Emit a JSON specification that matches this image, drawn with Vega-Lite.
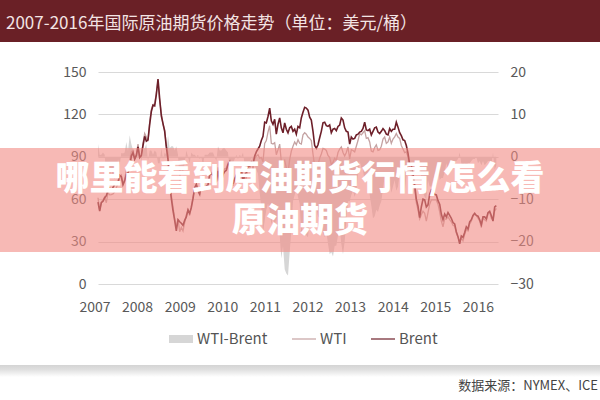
{
  "$schema": "https://vega.github.io/schema/vega-lite/v6.json",
  "width": 400,
  "height": 212,
  "autosize": {"type": "none"},
  "padding": {"left": 98, "top": 72, "right": 102, "bottom": 116},
  "background": "white",
  "config": {"font": "Noto Sans CJK SC", "view": {"stroke": null}},
  "data": {"values": [
    {"t":2007.000,"b":58.0,"w":61.0,"s":3.0},{"t":2007.042,"b":51.5,"w":51.9,"s":0.4},{"t":2007.083,"b":57.5,"w":58.0,"s":0.5},{"t":2007.125,"b":58.5,"w":59.5,"s":1.0},
    {"t":2007.167,"b":61.0,"w":61.5,"s":0.5},{"t":2007.208,"b":62.5,"w":57.5,"s":-5.0},{"t":2007.250,"b":66.0,"w":64.6,"s":-1.4},{"t":2007.292,"b":67.8,"w":63.1,"s":-4.7},
    {"t":2007.333,"b":66.2,"w":63.2,"s":-3.0},{"t":2007.375,"b":68.3,"w":63.7,"s":-4.6},{"t":2007.417,"b":70.4,"w":65.1,"s":-5.3},{"t":2007.458,"b":71.5,"w":68.0,"s":-3.5},
    {"t":2007.500,"b":72.0,"w":71.4,"s":-0.6},{"t":2007.542,"b":77.0,"w":75.0,"s":-2.0},{"t":2007.583,"b":76.0,"w":76.9,"s":0.9},{"t":2007.625,"b":70.2,"w":71.0,"s":0.8},
    {"t":2007.667,"b":73.0,"w":74.0,"s":1.0},{"t":2007.708,"b":77.5,"w":81.0,"s":3.5},{"t":2007.750,"b":78.7,"w":80.0,"s":1.3},{"t":2007.792,"b":82.5,"w":87.6,"s":5.1},
    {"t":2007.833,"b":90.5,"w":93.5,"s":3.0},{"t":2007.875,"b":93.0,"w":94.6,"s":1.6},{"t":2007.917,"b":88.3,"w":88.7,"s":0.4},{"t":2007.958,"b":91.0,"w":91.5,"s":0.5},
    {"t":2008.000,"b":97.0,"w":99.0,"s":2.0},{"t":2008.042,"b":89.5,"w":90.5,"s":1.0},{"t":2008.083,"b":91.0,"w":90.0,"s":-1.0},{"t":2008.125,"b":98.0,"w":99.5,"s":1.5},
    {"t":2008.167,"b":104.5,"w":106.5,"s":2.0},{"t":2008.208,"b":101.0,"w":104.0,"s":3.0},{"t":2008.250,"b":102.0,"w":101.0,"s":-1.0},{"t":2008.292,"b":113.0,"w":114.5,"s":1.5},
    {"t":2008.333,"b":122.0,"w":123.5,"s":1.5},{"t":2008.375,"b":126.5,"w":127.0,"s":0.5},{"t":2008.417,"b":126.0,"w":127.5,"s":1.5},{"t":2008.458,"b":134.0,"w":135.0,"s":1.0},
    {"t":2008.500,"b":145.0,"w":143.5,"s":-1.5},{"t":2008.542,"b":131.0,"w":129.5,"s":-1.5},{"t":2008.583,"b":119.0,"w":121.0,"s":2.0},{"t":2008.625,"b":113.5,"w":113.0,"s":-0.5},
    {"t":2008.667,"b":108.0,"w":109.0,"s":1.0},{"t":2008.708,"b":97.0,"w":97.5,"s":0.5},{"t":2008.750,"b":88.0,"w":93.0,"s":5.0},{"t":2008.792,"b":70.5,"w":72.5,"s":2.0},
    {"t":2008.833,"b":60.5,"w":63.0,"s":2.5},{"t":2008.875,"b":52.0,"w":54.5,"s":2.5},{"t":2008.917,"b":45.0,"w":46.5,"s":1.5},{"t":2008.958,"b":37.5,"w":40.0,"s":2.5},
    {"t":2009.000,"b":45.5,"w":46.0,"s":0.5},{"t":2009.042,"b":44.0,"w":37.0,"s":-7.0},{"t":2009.083,"b":43.0,"w":40.0,"s":-3.0},{"t":2009.125,"b":41.5,"w":37.5,"s":-4.0},
    {"t":2009.167,"b":45.0,"w":43.5,"s":-1.5},{"t":2009.208,"b":47.5,"w":49.0,"s":1.5},{"t":2009.250,"b":52.5,"w":52.5,"s":0.0},{"t":2009.292,"b":50.0,"w":48.5,"s":-1.5},
    {"t":2009.333,"b":54.0,"w":55.0,"s":1.0},{"t":2009.375,"b":60.5,"w":61.0,"s":0.5},{"t":2009.417,"b":68.0,"w":68.5,"s":0.5},{"t":2009.458,"b":70.5,"w":70.5,"s":0.0},
    {"t":2009.500,"b":66.0,"w":66.5,"s":0.5},{"t":2009.542,"b":63.5,"w":63.0,"s":-0.5},{"t":2009.583,"b":71.5,"w":71.5,"s":0.0},{"t":2009.625,"b":72.5,"w":70.5,"s":-2.0},
    {"t":2009.667,"b":67.5,"w":68.0,"s":0.5},{"t":2009.708,"b":69.0,"w":69.5,"s":0.5},{"t":2009.750,"b":70.0,"w":70.5,"s":0.5},{"t":2009.792,"b":77.0,"w":78.0,"s":1.0},
    {"t":2009.833,"b":78.0,"w":79.0,"s":1.0},{"t":2009.875,"b":77.0,"w":78.0,"s":1.0},{"t":2009.917,"b":76.5,"w":76.5,"s":0.0},{"t":2009.958,"b":72.5,"w":71.5,"s":-1.0},
    {"t":2010.000,"b":80.0,"w":82.5,"s":2.5},{"t":2010.042,"b":73.0,"w":74.5,"s":1.5},{"t":2010.083,"b":72.0,"w":73.5,"s":1.5},{"t":2010.125,"b":77.5,"w":79.5,"s":2.0},
    {"t":2010.167,"b":79.5,"w":81.5,"s":2.0},{"t":2010.208,"b":80.5,"w":82.0,"s":1.5},{"t":2010.250,"b":84.5,"w":85.5,"s":1.0},{"t":2010.292,"b":86.5,"w":83.5,"s":-3.0},
    {"t":2010.333,"b":80.0,"w":75.5,"s":-4.5},{"t":2010.375,"b":71.0,"w":69.5,"s":-1.5},{"t":2010.417,"b":74.5,"w":74.0,"s":-0.5},{"t":2010.458,"b":77.0,"w":77.5,"s":0.5},
    {"t":2010.500,"b":73.0,"w":72.5,"s":-0.5},{"t":2010.542,"b":76.5,"w":77.0,"s":0.5},{"t":2010.583,"b":81.5,"w":81.5,"s":0.0},{"t":2010.625,"b":72.5,"w":73.5,"s":1.0},
    {"t":2010.667,"b":77.0,"w":75.0,"s":-2.0},{"t":2010.708,"b":79.0,"w":75.0,"s":-4.0},{"t":2010.750,"b":83.0,"w":82.0,"s":-1.0},{"t":2010.792,"b":83.5,"w":81.5,"s":-2.0},
    {"t":2010.833,"b":86.5,"w":86.5,"s":0.0},{"t":2010.875,"b":85.0,"w":81.5,"s":-3.5},{"t":2010.917,"b":90.5,"w":88.5,"s":-2.0},{"t":2010.958,"b":93.5,"w":90.5,"s":-3.0},
    {"t":2011.000,"b":95.5,"w":91.5,"s":-4.0},{"t":2011.042,"b":97.5,"w":89.0,"s":-8.5},{"t":2011.083,"b":101.5,"w":89.5,"s":-12.0},{"t":2011.125,"b":104.5,"w":86.5,"s":-18.0},
    {"t":2011.167,"b":114.5,"w":99.5,"s":-15.0},{"t":2011.208,"b":114.0,"w":101.5,"s":-12.5},{"t":2011.250,"b":118.5,"w":107.5,"s":-11.0},{"t":2011.292,"b":124.5,"w":112.0,"s":-12.5},
    {"t":2011.333,"b":115.5,"w":99.5,"s":-16.0},{"t":2011.375,"b":113.0,"w":99.0,"s":-14.0},{"t":2011.417,"b":116.5,"w":100.0,"s":-16.5},{"t":2011.458,"b":106.0,"w":91.5,"s":-14.5},
    {"t":2011.500,"b":113.0,"w":95.0,"s":-18.0},{"t":2011.542,"b":117.5,"w":99.0,"s":-18.5},{"t":2011.583,"b":110.5,"w":86.5,"s":-24.0},{"t":2011.625,"b":107.0,"w":86.0,"s":-21.0},
    {"t":2011.667,"b":114.0,"w":87.5,"s":-26.5},{"t":2011.708,"b":109.5,"w":82.0,"s":-27.5},{"t":2011.750,"b":107.0,"w":79.0,"s":-28.0},{"t":2011.792,"b":110.5,"w":88.0,"s":-22.5},
    {"t":2011.833,"b":111.5,"w":94.0,"s":-17.5},{"t":2011.875,"b":108.0,"w":97.5,"s":-10.5},{"t":2011.917,"b":109.5,"w":100.5,"s":-9.0},{"t":2011.958,"b":106.0,"w":98.5,"s":-7.5},
    {"t":2012.000,"b":111.5,"w":102.0,"s":-9.5},{"t":2012.042,"b":110.5,"w":99.5,"s":-11.0},{"t":2012.083,"b":117.5,"w":99.0,"s":-18.5},{"t":2012.125,"b":121.5,"w":105.5,"s":-16.0},
    {"t":2012.167,"b":125.0,"w":107.0,"s":-18.0},{"t":2012.208,"b":124.5,"w":106.0,"s":-18.5},{"t":2012.250,"b":123.0,"w":104.0,"s":-19.0},{"t":2012.292,"b":118.0,"w":103.0,"s":-15.0},
    {"t":2012.333,"b":116.0,"w":101.5,"s":-14.5},{"t":2012.375,"b":108.0,"w":92.0,"s":-16.0},{"t":2012.417,"b":98.0,"w":83.0,"s":-15.0},{"t":2012.458,"b":96.0,"w":84.0,"s":-12.0},
    {"t":2012.500,"b":98.5,"w":84.5,"s":-14.0},{"t":2012.542,"b":103.5,"w":89.0,"s":-14.5},{"t":2012.583,"b":108.0,"w":92.0,"s":-16.0},{"t":2012.625,"b":114.0,"w":96.0,"s":-18.0},
    {"t":2012.667,"b":114.5,"w":95.5,"s":-19.0},{"t":2012.708,"b":112.0,"w":94.5,"s":-17.5},{"t":2012.750,"b":111.5,"w":91.0,"s":-20.5},{"t":2012.792,"b":112.5,"w":89.5,"s":-23.0},
    {"t":2012.833,"b":107.0,"w":84.5,"s":-22.5},{"t":2012.875,"b":109.5,"w":86.0,"s":-23.5},{"t":2012.917,"b":110.0,"w":89.0,"s":-21.0},{"t":2012.958,"b":108.5,"w":87.5,"s":-21.0},
    {"t":2013.000,"b":111.5,"w":93.0,"s":-18.5},{"t":2013.042,"b":112.5,"w":95.5,"s":-17.0},{"t":2013.083,"b":117.5,"w":97.0,"s":-20.5},{"t":2013.125,"b":116.0,"w":93.0,"s":-23.0},
    {"t":2013.167,"b":110.5,"w":90.5,"s":-20.0},{"t":2013.208,"b":108.0,"w":93.0,"s":-15.0},{"t":2013.250,"b":107.5,"w":97.0,"s":-10.5},{"t":2013.292,"b":99.0,"w":88.5,"s":-10.5},
    {"t":2013.333,"b":104.0,"w":95.0,"s":-9.0},{"t":2013.375,"b":102.5,"w":94.5,"s":-8.0},{"t":2013.417,"b":103.0,"w":93.5,"s":-9.5},{"t":2013.458,"b":105.5,"w":97.5,"s":-8.0},
    {"t":2013.500,"b":106.0,"w":101.5,"s":-4.5},{"t":2013.542,"b":107.5,"w":106.5,"s":-1.0},{"t":2013.583,"b":108.0,"w":105.5,"s":-2.5},{"t":2013.625,"b":110.0,"w":107.0,"s":-3.0},
    {"t":2013.667,"b":114.5,"w":108.5,"s":-6.0},{"t":2013.708,"b":109.0,"w":103.0,"s":-6.0},{"t":2013.750,"b":108.5,"w":103.5,"s":-5.0},{"t":2013.792,"b":109.5,"w":100.5,"s":-9.0},
    {"t":2013.833,"b":105.5,"w":94.0,"s":-11.5},{"t":2013.875,"b":108.0,"w":93.5,"s":-14.5},{"t":2013.917,"b":110.5,"w":96.5,"s":-14.0},{"t":2013.958,"b":111.0,"w":98.5,"s":-12.5},
    {"t":2014.000,"b":107.5,"w":94.5,"s":-13.0},{"t":2014.042,"b":106.5,"w":95.0,"s":-11.5},{"t":2014.083,"b":108.0,"w":97.5,"s":-10.5},{"t":2014.125,"b":110.0,"w":102.5,"s":-7.5},
    {"t":2014.167,"b":108.5,"w":104.0,"s":-4.5},{"t":2014.208,"b":106.0,"w":99.5,"s":-6.5},{"t":2014.250,"b":105.5,"w":100.5,"s":-5.0},{"t":2014.292,"b":110.0,"w":104.0,"s":-6.0},
    {"t":2014.333,"b":108.0,"w":99.5,"s":-8.5},{"t":2014.375,"b":109.5,"w":102.5,"s":-7.0},{"t":2014.417,"b":109.5,"w":104.0,"s":-5.5},{"t":2014.458,"b":114.5,"w":106.5,"s":-8.0},
    {"t":2014.500,"b":111.0,"w":104.0,"s":-7.0},{"t":2014.542,"b":107.0,"w":103.0,"s":-4.0},{"t":2014.583,"b":105.0,"w":98.0,"s":-7.0},{"t":2014.625,"b":102.0,"w":95.5,"s":-6.5},
    {"t":2014.667,"b":101.5,"w":93.0,"s":-8.5},{"t":2014.708,"b":98.0,"w":93.5,"s":-4.5},{"t":2014.750,"b":92.5,"w":90.0,"s":-2.5},{"t":2014.792,"b":84.5,"w":81.5,"s":-3.0},
    {"t":2014.833,"b":84.0,"w":79.0,"s":-5.0},{"t":2014.875,"b":78.0,"w":75.0,"s":-3.0},{"t":2014.917,"b":70.0,"w":67.0,"s":-3.0},{"t":2014.958,"b":60.0,"w":57.5,"s":-2.5},
    {"t":2015.000,"b":55.0,"w":52.5,"s":-2.5},{"t":2015.042,"b":47.0,"w":46.0,"s":-1.0},{"t":2015.083,"b":54.5,"w":49.0,"s":-5.5},{"t":2015.125,"b":60.0,"w":51.5,"s":-8.5},
    {"t":2015.167,"b":59.5,"w":50.0,"s":-9.5},{"t":2015.208,"b":54.5,"w":44.5,"s":-10.0},{"t":2015.250,"b":56.0,"w":50.5,"s":-5.5},{"t":2015.292,"b":63.5,"w":56.5,"s":-7.0},
    {"t":2015.333,"b":66.5,"w":59.5,"s":-7.0},{"t":2015.375,"b":65.0,"w":59.5,"s":-5.5},{"t":2015.417,"b":63.5,"w":59.5,"s":-4.0},{"t":2015.458,"b":63.0,"w":59.5,"s":-3.5},
    {"t":2015.500,"b":59.0,"w":56.5,"s":-2.5},{"t":2015.542,"b":56.5,"w":51.0,"s":-5.5},{"t":2015.583,"b":49.5,"w":44.5,"s":-5.0},{"t":2015.625,"b":45.5,"w":40.5,"s":-5.0},
    {"t":2015.667,"b":49.5,"w":46.0,"s":-3.5},{"t":2015.708,"b":47.5,"w":46.0,"s":-1.5},{"t":2015.750,"b":50.5,"w":47.5,"s":-3.0},{"t":2015.792,"b":48.5,"w":45.5,"s":-3.0},
    {"t":2015.833,"b":46.5,"w":44.0,"s":-2.5},{"t":2015.875,"b":43.5,"w":41.5,"s":-2.0},{"t":2015.917,"b":42.5,"w":41.0,"s":-1.5},{"t":2015.958,"b":37.0,"w":36.0,"s":-1.0},
    {"t":2016.000,"b":33.5,"w":33.0,"s":-0.5},{"t":2016.042,"b":28.5,"w":29.5,"s":1.0},{"t":2016.083,"b":34.0,"w":32.5,"s":-1.5},{"t":2016.125,"b":33.0,"w":30.5,"s":-2.5},
    {"t":2016.167,"b":36.5,"w":35.0,"s":-1.5},{"t":2016.208,"b":40.5,"w":38.5,"s":-2.0},{"t":2016.250,"b":39.0,"w":37.5,"s":-1.5},{"t":2016.292,"b":44.0,"w":42.5,"s":-1.5},
    {"t":2016.333,"b":45.5,"w":44.5,"s":-1.0},{"t":2016.375,"b":48.5,"w":48.0,"s":-0.5},{"t":2016.417,"b":50.0,"w":49.5,"s":-0.5},{"t":2016.458,"b":48.5,"w":48.5,"s":0.0},
    {"t":2016.500,"b":48.0,"w":46.5,"s":-1.5},{"t":2016.542,"b":45.5,"w":44.5,"s":-1.0},{"t":2016.583,"b":42.0,"w":40.0,"s":-2.0},{"t":2016.625,"b":47.5,"w":46.5,"s":-1.0},
    {"t":2016.667,"b":47.5,"w":45.5,"s":-2.0},{"t":2016.708,"b":46.0,"w":44.5,"s":-1.5},{"t":2016.750,"b":50.5,"w":49.5,"s":-1.0},{"t":2016.792,"b":51.5,"w":50.5,"s":-1.0},
    {"t":2016.833,"b":48.5,"w":46.5,"s":-2.0},{"t":2016.875,"b":44.5,"w":45.5,"s":1.0},{"t":2016.917,"b":54.5,"w":51.5,"s":-3.0},{"t":2016.958,"b":55.5,"w":53.5,"s":-2.0}
  ]},
  "layer": [
    {
      "mark": {"type": "area", "color": "#d6d6d6", "interpolate": "linear"},
      "encoding": {
        "x": {"field": "t", "type": "quantitative", "title": null,
              "scale": {"domain": [2007, 2017], "nice": false, "zero": false},
              "axis": {"values": [2007.0125, 2008.0775, 2009.1425, 2010.2075, 2011.2725, 2012.3375, 2013.4025, 2014.4675, 2015.5325, 2016.5975],
                       "labelExpr": "'' + (2007 + round((datum.value - 2007.0125) / 1.065))",
                       "labelOffset": -4,
                       "domain": false, "ticks": false, "grid": false, "labelFontSize": 14, "labelColor": "#595959",
                       "labelPadding": 16, "labelFlush": false, "labelOverlap": false}},
        "y": {"field": "s", "type": "quantitative", "title": null,
              "scale": {"domain": [-30, 20], "nice": false, "zero": false},
              "axis": {"orient": "right", "values": [-30, -20, -10, 0, 10, 20], "grid": false, "domain": false, "ticks": false,
                       "labelFontSize": 14, "labelColor": "#595959", "labelPadding": 12}},
        "y2": {"datum": 0},
        "color": {"datum": "WTI-Brent",
                  "scale": {"domain": ["WTI-Brent", "WTI", "Brent"], "range": ["#d6d6d6", "#c4a2a2", "#6d1f29"]},
                  "legend": {"orient": "none", "legendX": 71, "legendY": 255, "direction": "horizontal", "title": null,
                             "symbolSize": 576, "labelFontSize": 15, "labelColor": "#555555", "labelOffset": 4,
                             "columnPadding": 24, "symbolStrokeWidth": 0,
                             "encode": {"symbols": {"update": {
                               "shape": {"signal": "datum.value === 'WTI-Brent' ? 'M-1,-0.333H1V0.333H-1Z' : 'M-1,-0.05H1V0.05H-1Z'"},
                               "fill": {"signal": "datum.value === 'WTI-Brent' ? '#d6d6d6' : datum.value === 'WTI' ? '#c4a2a2' : '#6d1f29'"},
                               "stroke": {"value": "transparent"},
                               "opacity": {"value": 1}}}}}}
      }
    },
    {
      "layer": [
        {
          "mark": {"type": "line", "strokeWidth": 1.3},
          "encoding": {
            "x": {"field": "t", "type": "quantitative", "title": null},
            "y": {"field": "w", "type": "quantitative", "title": null,
                  "scale": {"domain": [0, 150], "nice": false},
                  "axis": {"orient": "left", "values": [0, 30, 60, 90, 120, 150], "grid": true, "gridColor": "#d9d9d9",
                           "domain": false, "ticks": false, "labelFontSize": 14, "labelColor": "#595959", "labelPadding": 12}},
            "color": {"datum": "WTI"}
          }
        },
        {
          "mark": {"type": "line", "strokeWidth": 1.6},
          "encoding": {
            "x": {"field": "t", "type": "quantitative", "title": null},
            "y": {"field": "b", "type": "quantitative", "title": null},
            "color": {"datum": "Brent"}
          }
        },
        {
          "data": {"values": [{"note": "band"}]},
          "mark": {"type": "rect", "color": "#f28b84", "opacity": 0.6},
          "encoding": {
            "x": {"datum": 2004.55, "type": "quantitative", "title": null},
            "x2": {"datum": 2019.55},
            "y": {"datum": 96.23, "type": "quantitative", "title": null},
            "y2": {"datum": 22.64}
          }
        },
        {
          "data": {"values": [{"note": "overlay"}]},
          "mark": {"type": "text", "color": "white", "fontSize": 34, "fontWeight": 900, "align": "center", "baseline": "middle",
                   "lineBreak": "\n", "lineHeight": 42},
          "encoding": {
            "x": {"datum": 2012.05, "type": "quantitative", "title": null},
            "y": {"datum": 73.58, "type": "quantitative", "title": null},
            "text": {"value": "哪里能看到原油期货行情/怎么看\n原油期货"}
          }
        },
        {
          "data": {"values": [{"note": "titlebar"}]},
          "mark": {"type": "rect", "color": "#6a2026"},
          "encoding": {
            "x": {"datum": 2004.55, "type": "quantitative", "title": null},
            "x2": {"datum": 2019.55},
            "y": {"datum": 200.94, "type": "quantitative", "title": null},
            "y2": {"datum": 171.23}
          }
        },
        {
          "data": {"values": [{"note": "title"}]},
          "mark": {"type": "text", "color": "#f3e4e4", "fontSize": 17, "align": "left", "baseline": "middle"},
          "encoding": {
            "x": {"datum": 2004.7, "type": "quantitative", "title": null},
            "y": {"datum": 183.96, "type": "quantitative", "title": null},
            "text": {"value": "2007-2016年国际原油期货价格走势（单位：美元/桶）"}
          }
        },
        {
          "data": {"values": [{"note": "shadow"}]},
          "mark": {"type": "rect", "color": {"gradient": "linear", "x1": 0, "y1": 0, "x2": 0, "y2": 1,
                   "stops": [{"offset": 0, "color": "#d4d4d4"}, {"offset": 0.35, "color": "#dedede"}, {"offset": 1, "color": "#ffffff"}]}},
          "encoding": {
            "x": {"datum": 2004.55, "type": "quantitative", "title": null},
            "x2": {"datum": 2019.55},
            "y": {"datum": -57.31, "type": "quantitative", "title": null},
            "y2": {"datum": -65.8}
          }
        },
        {
          "data": {"values": [{"note": "source"}]},
          "mark": {"type": "text", "color": "#444444", "fontSize": 13, "align": "right", "baseline": "middle"},
          "encoding": {
            "x": {"datum": 2019.5, "type": "quantitative", "title": null},
            "y": {"datum": -72.17, "type": "quantitative", "title": null},
            "text": {"value": "数据来源：NYMEX、ICE"}
          }
        }
      ]
    }
  ],
  "resolve": {"scale": {"y": "independent"}}
}
